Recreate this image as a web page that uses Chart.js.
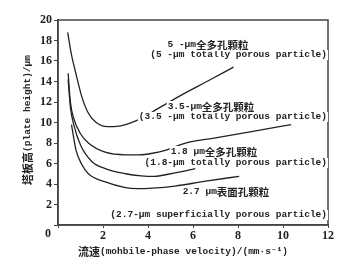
<!DOCTYPE html>
<html>
<head>
<meta charset="utf-8">
<script src="https://cdn.jsdelivr.net/npm/chart.js@4"></script>
<style>
  html, body { margin: 0; padding: 0; background: #fff; }
  canvas { display: block; }
</style>
</head>
<body>
<canvas id="vanDeemter" width="349" height="262"></canvas>
<script>
// flow velocity (mm/s) and plate height (um)
const vel5 = [0.43, 0.6, 0.76, 1.06, 1.35, 1.7, 2.2, 2.7, 3.2, 3.8, 4.4, 5.5, 6.7, 7.8];
const h5 = [18.8, 16.6, 15.1, 12.5, 10.9, 10.0, 9.6, 9.65, 9.95, 10.5, 11.3, 12.7, 14.1, 15.4];

const vel35 = [0.45, 0.55, 0.7, 1.0, 1.35, 2.1, 3.0, 3.6, 4.2, 4.8, 5.6, 7.0, 8.6, 10.36];
const h35 = [14.8, 12.0, 10.4, 8.9, 8.0, 7.1, 6.85, 6.85, 7.0, 7.3, 7.95, 8.5, 9.1, 9.8];

const vel18 = [0.45, 0.55, 0.7, 1.0, 1.5, 2.1, 3.0, 3.7, 4.3, 4.9, 5.5, 6.1];
const h18 = [14.2, 11.5, 9.8, 7.8, 6.2, 5.5, 5.0, 4.8, 4.75, 4.95, 5.2, 5.5];

const vel27 = [0.6, 0.8, 1.06, 1.35, 2.1, 3.0, 3.5, 4.2, 5.2, 6.5, 8.05];
const h27 = [9.8, 7.3, 5.9, 5.0, 4.2, 3.65, 3.55, 3.6, 3.8, 4.25, 4.75];

const xTicks = [0, 2, 4, 6, 8, 10, 12];
const yTicks = [0, 2, 4, 6, 8, 10, 12, 14, 16, 18, 20];

// curve labels: chinese line + english line
const labelsCn = ['5 -µm全多孔颗粒', '3.5-µm全多孔颗粒', '1.8 µm全多孔颗粒', '2.7 µm表面孔颗粒'];
const labelsEn = ['(5 -µm totally porous particle)', '(3.5 -µm totally porous particle)',
  '(1.8-µm totally porous particle)', '(2.7-µm superficially porous particle)'];

const xTitle = ['流速', '(mohbile-phase velocity)/(mm·s⁻¹)'];
const yTitle = ['塔板高', '(plate height)/µm'];

function pts(xs, ys) {
  return xs.map((x, i) => ({ x: x, y: ys[i] }));
}

const INK = '#222';
const CJK = "'Noto Sans CJK SC', sans-serif";
const MONO = "'Liberation Mono', 'DejaVu Sans Mono', monospace";

// draw a mixed cn/en string, starting at x (left), middle baseline
function mixedText(ctx, parts, x, y) {
  parts.forEach(p => {
    ctx.font = p.font;
    ctx.fillText(p.t, x, y);
    x += ctx.measureText(p.t).width;
  });
}
function mixedWidth(ctx, parts) {
  let w = 0;
  parts.forEach(p => { ctx.font = p.font; w += ctx.measureText(p.t).width; });
  return w;
}

const decor = {
  id: 'decor',
  afterDatasetsDraw(chart) {
    const ctx = chart.ctx;
    const a = chart.chartArea;
    ctx.save();

    // frame
    ctx.strokeStyle = '#444';
    ctx.lineWidth = 1.5;
    ctx.strokeRect(a.left, a.top, a.right - a.left, a.bottom - a.top);

    ctx.textBaseline = 'middle';
    ctx.fillStyle = INK;

    // english lines, right aligned near the frame
    const enY = [55, 117, 163, 215];
    ctx.font = 'bold 9.5px ' + MONO;
    labelsEn.forEach((t, i) => {
      const w = ctx.measureText(t).width;
      const x = 327 - w;
      ctx.fillStyle = '#fff';
      ctx.fillRect(x - 1, enY[i] - 5, w + 2, 10);
      ctx.fillStyle = INK;
      ctx.fillText(t, x, enY[i]);
    });

    // chinese lines, centred
    const cnX = [208, 211, 214, 226];
    const cnY = [45, 107, 152, 192];
    labelsCn.forEach((t, i) => {
      const k = t.search(/[\u4e00-\u9fff]/);
      const parts = [
        { t: t.slice(0, k), font: 'bold 9.5px ' + MONO },
        { t: t.slice(k), font: 'bold 10.5px ' + CJK }
      ];
      const w = mixedWidth(ctx, parts);
      const x = cnX[i] - w / 2;
      ctx.fillStyle = '#fff';
      ctx.fillRect(x - 1, cnY[i] - 6, w + 2, 12);
      ctx.fillStyle = INK;
      mixedText(ctx, parts, x, cnY[i]);
    });

    // corner zero
    ctx.font = 'bold 12px "Liberation Serif", serif';
    ctx.textAlign = 'center';
    ctx.fillText('0', 48, 234);
    ctx.textAlign = 'left';

    // x title
    const xp = [
      { t: xTitle[0], font: 'bold 11px ' + CJK },
      { t: xTitle[1], font: 'bold 9.5px ' + MONO }
    ];
    const xw = mixedWidth(ctx, xp);
    mixedText(ctx, xp, 183 - xw / 2, 252);

    // y title, rotated
    const yp = [
      { t: yTitle[0], font: 'bold 11px ' + CJK },
      { t: yTitle[1], font: 'bold 9.5px ' + MONO }
    ];
    const yw = mixedWidth(ctx, yp);
    ctx.translate(28, 120);
    ctx.rotate(-Math.PI / 2);
    mixedText(ctx, yp, -yw / 2, 0);

    ctx.restore();
  }
};

const lineStyle = {
  borderColor: INK,
  borderWidth: 1.3,
  pointRadius: 0,
  fill: false,
  cubicInterpolationMode: 'monotone'
};

const ctx = document.getElementById('vanDeemter').getContext('2d');
const chart = new Chart(ctx, {
  type: 'line',
  data: {
    datasets: [
      Object.assign({ label: '5 µm', data: pts(vel5, h5) }, lineStyle),
      Object.assign({ label: '3.5 µm', data: pts(vel35, h35) }, lineStyle),
      Object.assign({ label: '1.8 µm', data: pts(vel18, h18) }, lineStyle),
      Object.assign({ label: '2.7 µm', data: pts(vel27, h27) }, lineStyle)
    ]
  },
  options: {
    responsive: false,
    animation: false,
    devicePixelRatio: 1,
    layout: { padding: { left: 0, top: 20, right: 21, bottom: 0 } },
    plugins: {
      legend: { display: false },
      tooltip: { enabled: false }
    },
    scales: {
      x: {
        type: 'linear',
        min: 0,
        max: 12,
        afterBuildTicks: s => { s.ticks = xTicks.map(v => ({ value: v })); },
        afterFit: s => { s.height = 37; },
        grid: { drawOnChartArea: false, color: '#444', tickLength: 3, lineWidth: 1 },
        border: { display: true, color: '#444', width: 1.5 },
        ticks: {
          color: INK,
          padding: 1,
          maxRotation: 0,
          font: { family: 'Liberation Serif', size: 12, weight: 'bold' },
          callback: v => (v === 0 ? '' : v)
        }
      },
      y: {
        min: 0,
        max: 20,
        afterBuildTicks: s => { s.ticks = yTicks.map(v => ({ value: v })); },
        afterFit: s => { s.width = 58; },
        grid: { drawOnChartArea: false, color: '#444', tickLength: 4, lineWidth: 1 },
        border: { display: true, color: '#444', width: 1.5 },
        ticks: {
          color: INK,
          padding: 2,
          font: { family: 'Liberation Serif', size: 12, weight: 'bold' },
          callback: v => (v === 0 ? '' : v)
        }
      }
    }
  },
  plugins: [decor]
});
</script>
</body>
</html>
